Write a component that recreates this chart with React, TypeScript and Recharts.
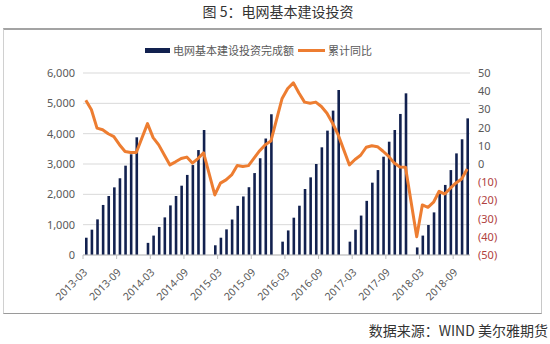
import React from "react";
import { ComposedChart, Bar, Line, XAxis, YAxis, CartesianGrid } from "recharts";

// months that have data (January is merged into February, so no Jan points)
const periods: string[] = [
  "2013-03", "2013-04", "2013-05", "2013-06", "2013-07", "2013-08", "2013-09", "2013-10", "2013-11", "2013-12",
  "2014-02", "2014-03", "2014-04", "2014-05", "2014-06", "2014-07", "2014-08", "2014-09", "2014-10", "2014-11", "2014-12",
  "2015-02", "2015-03", "2015-04", "2015-05", "2015-06", "2015-07", "2015-08", "2015-09", "2015-10", "2015-11", "2015-12",
  "2016-02", "2016-03", "2016-04", "2016-05", "2016-06", "2016-07", "2016-08", "2016-09", "2016-10", "2016-11", "2016-12",
  "2017-02", "2017-03", "2017-04", "2017-05", "2017-06", "2017-07", "2017-08", "2017-09", "2017-10", "2017-11", "2017-12",
  "2018-02", "2018-03", "2018-04", "2018-05", "2018-06", "2018-07", "2018-08", "2018-09", "2018-10", "2018-11",
];

// 电网基本建设投资完成额 (亿元)
const investment: number[] = [
  570, 835, 1175, 1650, 1945, 2230, 2530, 2945, 3320, 3880,
  400, 640, 925, 1240, 1635, 1945, 2285, 2640, 2965, 3460, 4120,
  320, 570, 845, 1170, 1620, 1930, 2235, 2700, 3190, 3840, 4640,
  440, 810, 1230, 1625, 2175, 2560, 3000, 3550, 4100, 4760, 5440,
  440, 835, 1300, 1785, 2385, 2800, 3240, 3735, 4120, 4650, 5330,
  250, 640, 990, 1405, 2010, 2310, 2800, 3350, 3815, 4505,
];

// 累计同比 (%)
const yoy: number[] = [
  35, 29.8, 19.7, 18.8, 16.6, 15, 10.6, 6.9, 6.3, 6.3,
  22.2, 14.5, 10.5, 5, -0.5, 1.2, 3, 3.8, 0.5, 3, 6.1,
  -17, -10.5, -8.7, -6, -0.8, -1.4, -0.9, 3.2, 7.3, 10.6, 12.6,
  36, 41.5, 44.6, 39, 34, 33.4, 34, 31.6, 27.9, 22.4, 16,
  -0.5, 2.5, 4.8, 9.2, 10, 9.5, 7, 4.2, 0.5, -1.6, -1.8,
  -40, -22.5, -23.8, -21, -15, -16.5, -13.3, -10.4, -8.2, -2.7,
];

const xTickLabels: string[] = [
  "2013-03", "2013-09", "2014-03", "2014-09", "2015-03", "2015-09",
  "2016-03", "2016-09", "2017-03", "2017-09", "2018-03", "2018-09",
];

const leftTicks = [0, 1000, 2000, 3000, 4000, 5000, 6000];
const rightTicks = [-50, -40, -30, -20, -10, 0, 10, 20, 30, 40, 50];

const monthIndex = (p: string) => {
  const [y, m] = p.split("-").map(Number);
  return (y - 2013) * 12 + (m - 3);
};

const data = periods.map((p, i) => ({
  period: p,
  x: monthIndex(p) + 0.5,
  investment: investment[i],
  yoy: yoy[i],
}));

const xTicks = xTickLabels.map(monthIndex);

const GREY = "#595959";
const RED = "#b0413e";
const NAVY = "#12214f";
const ORANGE = "#ED7D31";
const FONT = "'Noto Sans', 'Noto Sans CJK SC', sans-serif";
const CJK = "'Noto Sans CJK SC', sans-serif";

const XTick = (props: any) => {
  const { x, y, payload } = props;
  const label = xTickLabels[xTicks.indexOf(payload.value)];
  const px = x + 5;
  const py = y + 12;
  return (
    <text
      x={px}
      y={py}
      textAnchor="end"
      transform={`rotate(-45, ${px}, ${py})`}
      fontSize={10.5}
      fill={GREY}
      fontFamily={FONT}
    >
      {label}
    </text>
  );
};

const RightTick = (props: any) => {
  const { x, y, payload } = props;
  const v = payload.value as number;
  return (
    <text x={x} y={y} dy={4} textAnchor="start" fontSize={11} fill={v < 0 ? RED : GREY} fontFamily={FONT}>
      {v < 0 ? `(${-v})` : `${v}`}
    </text>
  );
};

export default function App() {
  return (
    <div
      style={{
        position: "absolute",
        left: 0,
        top: 0,
        width: 550,
        height: 344,
        background: "#fff",
        fontFamily: FONT,
      }}
    >
      <div
        style={{
          position: "absolute",
          left: 0,
          width: 556,
          top: 1,
          textAlign: "center",
          fontSize: 14,
          color: "#333",
          fontFamily: CJK,
        }}
      >
        图 5：电网基本建设投资
      </div>
      <div
        style={{
          position: "absolute",
          left: 3,
          top: 28,
          width: 537,
          height: 283,
          borderTop: "2px solid #a3a3a3",
          borderLeft: "1px solid #d0d0d0",
          borderRight: "1px solid #c8c8c8",
          borderBottom: "1px solid #9a9a9a",
        }}
      />
      {/* legend */}
      <div style={{ position: "absolute", left: 145, top: 48, width: 25, height: 5, background: NAVY }} />
      <div
        style={{
          position: "absolute",
          left: 173,
          top: 42,
          fontSize: 11,
          color: GREY,
          whiteSpace: "nowrap",
          fontFamily: CJK,
        }}
      >
        电网基本建设投资完成额
      </div>
      <div style={{ position: "absolute", left: 298, top: 49, width: 27, height: 3, background: ORANGE }} />
      <div
        style={{
          position: "absolute",
          left: 328,
          top: 42,
          fontSize: 11,
          color: GREY,
          whiteSpace: "nowrap",
          fontFamily: CJK,
        }}
      >
        累计同比
      </div>

      <ComposedChart
        width={550}
        height={344}
        data={data}
        margin={{ top: 73, right: 0, bottom: 29, left: 0 }}
        style={{ position: "absolute", left: 0, top: 0 }}
      >
        <CartesianGrid yAxisId="left" vertical={false} stroke="#d9d9d9" />
        <XAxis
          dataKey="x"
          type="number"
          domain={[0, 69]}
          ticks={xTicks}
          interval={0}
          height={60}
          stroke="#bfbfbf"
          tickSize={4}
          tickMargin={2}
          tick={<XTick />}
          allowDataOverflow
        />
        <YAxis
          yAxisId="left"
          width={83}
          domain={[0, 6000]}
          ticks={leftTicks}
          interval={0}
          axisLine={false}
          tickLine={false}
          tick={{ fill: GREY, fontSize: 11, fontFamily: FONT }}
          tickFormatter={(v: number) => v.toLocaleString("en-US")}
        />
        <YAxis
          yAxisId="right"
          orientation="right"
          width={80}
          domain={[-50, 50]}
          ticks={rightTicks}
          interval={0}
          axisLine={false}
          tickLine={false}
          tick={<RightTick />}
        />
        <Bar yAxisId="left" dataKey="investment" fill={NAVY} barSize={2.6} isAnimationActive={false} />
        <Line
          yAxisId="right"
          dataKey="yoy"
          type="linear"
          stroke={ORANGE}
          strokeWidth={3}
          dot={false}
          strokeLinejoin="round"
          isAnimationActive={false}
        />
      </ComposedChart>

      <div
        style={{
          position: "absolute",
          right: 2,
          top: 320,
          fontSize: 14,
          color: "#333",
          whiteSpace: "nowrap",
          fontFamily: CJK,
        }}
      >
        数据来源：WIND 美尔雅期货
      </div>
    </div>
  );
}
